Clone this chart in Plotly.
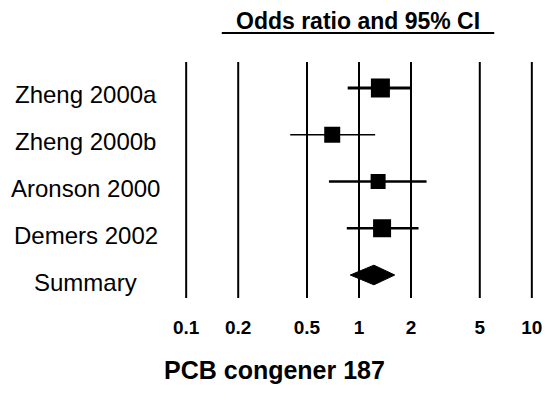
import plotly.graph_objects as go

# ---- data ----
studies = ["Zheng 2000a", "Zheng 2000b", "Aronson 2000", "Demers 2002"]
odds_ratio = [1.33, 0.70, 1.29, 1.36]
ci_low = [0.86, 0.40, 0.67, 0.85]
ci_high = [1.99, 1.24, 2.46, 2.21]

summary_label = "Summary"
summary_or = 1.22
summary_low = 0.89
summary_high = 1.61

tick_values = [0.1, 0.2, 0.5, 1, 2, 5, 10]
tick_labels = ["0.1", "0.2", "0.5", "1", "2", "5", "10"]

title_text = "Odds ratio and 95% CI"
xlabel_text = "PCB congener 187"

# ---- styling ----
FONT = "Liberation Sans, Arial, sans-serif"
square_px = [19, 16, 15, 18]
ci_width = [3, 1.5, 2.4, 2.4]
diamond_half = 0.21  # in row units

n = len(studies)
rows = list(range(n + 1, 1, -1))  # 5,4,3,2
summary_row = 1

fig = go.Figure()

# vertical reference lines at each tick value
for v in tick_values:
    fig.add_shape(type="line", xref="x", yref="paper", x0=v, x1=v, y0=0, y1=1,
                  line=dict(color="black", width=2), layer="below")

# study estimates with CI
for i in range(n):
    fig.add_trace(go.Scatter(
        x=[odds_ratio[i]], y=[rows[i]], mode="markers",
        marker=dict(symbol="square", size=square_px[i], color="black", line=dict(width=0)),
        error_x=dict(type="data", symmetric=False,
                     array=[ci_high[i] - odds_ratio[i]],
                     arrayminus=[odds_ratio[i] - ci_low[i]],
                     color="black", thickness=ci_width[i], width=0),
        showlegend=False, hoverinfo="skip", cliponaxis=False))

# summary diamond
fig.add_trace(go.Scatter(
    x=[summary_low, summary_or, summary_high, summary_or, summary_low],
    y=[summary_row, summary_row + diamond_half, summary_row, summary_row - diamond_half, summary_row],
    mode="lines", fill="toself", fillcolor="black",
    line=dict(color="black", width=1), showlegend=False, hoverinfo="skip"))

# row labels
label_x = (85 - 181) / 358
for lab, r in zip(studies + [summary_label], rows + [summary_row]):
    fig.add_annotation(text=lab, xref="paper", yref="y", x=label_x, y=r,
                       xanchor="center", yanchor="middle", yshift=-7, showarrow=False,
                       font=dict(family=FONT, size=24, color="black"))

# title + underline
fig.add_annotation(text="<b>" + title_text + "</b>", xref="paper", yref="paper",
                   x=(359 - 181) / 358, y=1 + (62 - 21) / 236, xanchor="center", yanchor="middle",
                   showarrow=False, font=dict(family=FONT, size=23, color="black"))
fig.add_shape(type="line", xref="paper", yref="paper",
              x0=(222 - 181) / 358, x1=(496 - 181) / 358,
              y0=1 + (62 - 33) / 236, y1=1 + (62 - 33) / 236,
              line=dict(color="black", width=2))

# x label
fig.add_annotation(text="<b>" + xlabel_text + "</b>", xref="paper", yref="paper",
                   x=(275 - 181) / 358, y=-(370 - 298) / 236, xanchor="center", yanchor="middle",
                   showarrow=False, font=dict(family=FONT, size=25, color="black"))

fig.update_xaxes(type="log", range=[-1.03, 1.03], tickvals=tick_values, ticktext=tick_labels,
                 showgrid=False, zeroline=False, showline=False,
                 ticks="outside", ticklen=12, tickcolor="rgba(0,0,0,0)",
                 tickfont=dict(family=FONT, size=19, color="black", weight="bold"))
fig.update_yaxes(range=[0.508, 5.556], showgrid=False, zeroline=False, showline=False,
                 showticklabels=False, ticks="")

fig.update_layout(width=554, height=409, margin=dict(l=181, r=15, t=62, b=111),
                  plot_bgcolor="white", paper_bgcolor="white", showlegend=False)

fig.write_html("out.html", post_script="document.body.style.margin='0';",
               config={"displayModeBar": False})
